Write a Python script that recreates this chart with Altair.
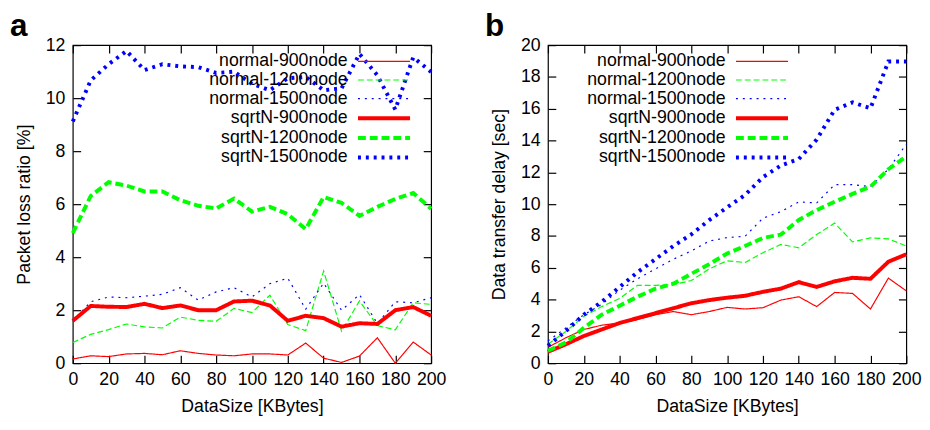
import altair as alt
import pandas as pd

FONT = "Liberation Sans"

series = ["normal-900node", "normal-1200node", "normal-1500node",
          "sqrtN-900node", "sqrtN-1200node", "sqrtN-1500node"]
datasize = list(range(0, 201, 10))

# Panel a: packet loss ratio [%]
loss_normal_900 = [0.16, 0.28, 0.25, 0.35, 0.37, 0.32, 0.47, 0.37, 0.31, 0.28, 0.35,
                   0.35, 0.31, 0.76, 0.19, 0.03, 0.27, 0.96, 0.0, 0.8, 0.31]
loss_normal_1200 = [0.78, 1.09, 1.27, 1.48, 1.37, 1.33, 1.74, 1.62, 1.58, 2.07, 1.91,
                    2.57, 1.46, 1.23, 3.48, 1.21, 2.35, 1.42, 1.26, 2.28, 2.22]
loss_normal_1500 = [1.58, 2.32, 2.5, 2.47, 2.53, 2.6, 2.85, 2.38, 2.69, 2.85, 2.5,
                    3.0, 3.21, 2.04, 3.02, 2.0, 2.59, 1.5, 2.32, 2.28, 2.47]
loss_sqrtn_900 = [1.6, 2.16, 2.13, 2.12, 2.24, 2.08, 2.18, 2.0, 2.0, 2.33, 2.36,
                  2.18, 1.6, 1.79, 1.7, 1.38, 1.51, 1.48, 2.0, 2.12, 1.79]
loss_sqrtn_1200 = [4.91, 6.31, 6.83, 6.7, 6.48, 6.48, 6.15, 5.94, 5.84, 6.21, 5.72,
                   5.9, 5.62, 5.06, 6.27, 6.05, 5.56, 5.9, 6.2, 6.42, 5.83]
loss_sqrtn_1500 = [9.12, 10.67, 11.28, 11.78, 11.06, 11.28, 11.2, 11.17, 10.95, 11.0, 10.54,
                   10.3, 10.75, 10.8, 10.3, 10.37, 11.67, 10.86, 9.57, 11.54, 10.99]

# Panel b: data transfer delay [sec]
delay_normal_900 = [1.0, 1.6, 2.12, 2.39, 2.53, 2.74, 3.05, 3.25, 3.05, 3.25, 3.51,
                    3.41, 3.49, 3.97, 4.18, 3.56, 4.45, 4.39, 3.41, 5.35, 4.55]
delay_normal_1200 = [1.2, 2.0, 2.94, 3.56, 4.07, 4.9, 4.9, 4.94, 5.2, 5.93, 6.44,
                     6.33, 6.95, 7.47, 7.26, 8.09, 8.81, 7.63, 7.88, 7.82, 7.37]
delay_normal_1500 = [1.4, 2.22, 3.05, 3.7, 4.59, 5.31, 5.93, 6.54, 7.06, 7.68, 7.9,
                     7.98, 9.12, 9.53, 10.14, 10.08, 11.23, 11.23, 11.1, 12.2, 13.77]
delay_sqrtn_900 = [0.72, 1.19, 1.71, 2.12, 2.53, 2.84, 3.15, 3.46, 3.77, 3.97, 4.12,
                   4.24, 4.49, 4.69, 5.1, 4.8, 5.15, 5.37, 5.31, 6.38, 6.85]
delay_sqrtn_1200 = [0.78, 1.3, 2.22, 3.05, 3.62, 4.18, 4.69, 5.0, 5.62, 6.23, 6.9,
                    7.37, 7.88, 8.09, 9.01, 9.63, 10.15, 10.65, 11.1, 12.2, 13.0]
delay_sqrtn_1500 = [1.1, 2.02, 3.05, 3.86, 4.79, 5.72, 6.54, 7.37, 8.1, 9.0, 9.8,
                    10.58, 11.7, 12.43, 12.84, 14.07, 15.93, 16.4, 16.03, 18.97, 18.97]

x_ticks = list(range(0, 201, 20))
y_ticks_a = list(range(0, 13, 2))
y_ticks_b = list(range(0, 21, 2))

colors = ["#ff0000", "#00ff00", "#0000ff", "#ff0000", "#00ff00", "#0000ff"]
dashes = [[1, 0], [6, 3], [2, 5], [1, 0], [8, 4], [3, 5]]
widths = [1.2, 1.2, 1.2, 4, 4, 4]

# legend sample: a horizontal stroke drawn to the right of the label
LEGEND_SYMBOL = "M0,0H6.24"


def make_df(vals):
    rows = []
    for s, v in zip(series, vals):
        for x, y in zip(datasize, v):
            rows.append({"x": x, "y": y, "series": s})
    return pd.DataFrame(rows)


def axis(**kw):
    base = dict(domain=False, ticks=True, tickSize=8, tickWidth=1.2, tickColor="black",
                offset=-8, grid=False, labelFont=FONT, labelFontSize=18,
                labelColor="black", titleFont=FONT, titleFontSize=18,
                titleFontWeight="normal", titleColor="black",
                labelFlush=False, labelOverlap=False)
    base.update(kw)
    return alt.Axis(**base)


def panel(vals, ymax, yticks, ytitle, letter, legend_x):
    df = make_df(vals)
    xs = alt.Scale(domain=[0, 200], nice=False, zero=False)
    ys = alt.Scale(domain=[0, ymax], nice=False, zero=False)
    leg = alt.Legend(title=None, orient="none", legendX=legend_x, legendY=7,
                     symbolType=LEGEND_SYMBOL, symbolSize=289, symbolStrokeWidth=1,
                     labelAlign="right", labelOffset={"expr": "-21"}, labelFontSize=18,
                     labelFont=FONT, labelColor="black", padding=0,
                     rowPadding={"expr": "-0.4"}, labelLimit=400)
    lines = alt.Chart(df).mark_line(strokeCap="butt", strokeJoin="miter").encode(
        x=alt.X("x:Q", scale=xs,
                axis=axis(orient="bottom", values=x_ticks, labelPadding=8,
                          title="DataSize [KBytes]", titlePadding=9)),
        y=alt.Y("y:Q", scale=ys,
                axis=axis(orient="left", values=yticks, labelPadding=8,
                          title=ytitle, titlePadding=12)),
        color=alt.Color("series:N", scale=alt.Scale(domain=series, range=colors), legend=leg),
        strokeDash=alt.StrokeDash("series:N", scale=alt.Scale(domain=series, range=dashes), legend=leg),
        strokeWidth=alt.StrokeWidth("series:N", scale=alt.Scale(type="ordinal", domain=series, range=widths), legend=leg),
    )
    mirror = alt.Chart(df).mark_point(opacity=0).encode(
        x=alt.X("x:Q", scale=xs, axis=axis(orient="top", values=x_ticks, labels=False, title=None)),
        y=alt.Y("y:Q", scale=ys, axis=axis(orient="right", values=yticks, labels=False, title=None)),
    )
    return alt.layer(lines, mirror).resolve_axis(x="independent", y="independent").properties(
        width=365, height=324,
        title=alt.TitleParams(text=letter, anchor="start", fontSize=32, fontWeight="bold",
                              font=FONT, color="black", offset=-7, dx=-6, frame="bounds"),
    )


panel_a = panel([loss_normal_900, loss_normal_1200, loss_normal_1500,
                 loss_sqrtn_900, loss_sqrtn_1200, loss_sqrtn_1500],
                12, y_ticks_a, "Packet loss ratio [%]", "a", 280)
panel_b = panel([delay_normal_900, delay_normal_1200, delay_normal_1500,
                 delay_sqrtn_900, delay_sqrtn_1200, delay_sqrtn_1500],
                20, y_ticks_b, "Data transfer delay [sec]", "b", 181)

chart = alt.hconcat(panel_a, panel_b, spacing=38).resolve_scale(
    color="independent", strokeDash="independent", strokeWidth="independent"
).configure_view(stroke="black", strokeWidth=1.2).properties(
    padding={"left": 1, "top": -2, "right": 0, "bottom": 0}
)

chart.save("out.html", embed_options={"renderer": "svg", "actions": False})
